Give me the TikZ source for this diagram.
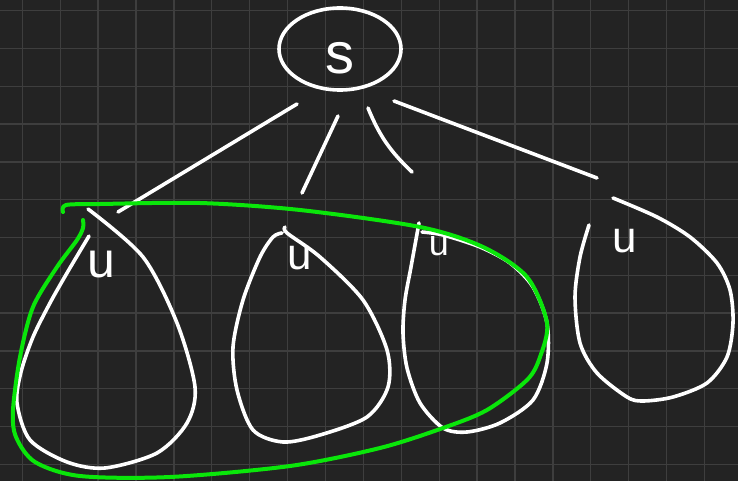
\documentclass[tikz,border=0pt]{standalone}
\usepackage{fontspec}
\setmainfont{Liberation Sans}
\usetikzlibrary{shapes.geometric}
\definecolor{board}{RGB}{35,35,35}
\definecolor{gridline}{RGB}{62,62,62}
\definecolor{marker}{RGB}{10,230,10}

\begin{document}
\begin{tikzpicture}[x=1pt,y=-1pt,
    chalk/.style={white,line width=3.6pt,line cap=round,line join=round},
    hilite/.style={marker,line width=4pt,line cap=round,line join=round},
    letter/.style={white,inner sep=0pt,font=\fontsize{#1}{#1}\selectfont},
    letter/.default=44]
    \fill[board] (0,0) rectangle (738,481);
    \useasboundingbox (0,0) rectangle (738,481);
    \foreach \i in {0,...,18}
      \draw[gridline,line width=1.3pt] (22.3+37.9*\i,0) -- (22.3+37.9*\i,481);
    \foreach \j in {0,...,12}
      \draw[gridline,line width=1.3pt] (0,10.7+37.8*\j) -- (738,10.7+37.8*\j);

    \node (s) at (340,49) [ellipse,draw,chalk,minimum width=122pt,minimum height=82pt] {};
    \node (stxt) at (340,58) [letter=58] {s};
    \node (u1) at (101,265) [letter=50] {u};
    \node (u2) at (300,258) [letter=44] {u};
    \node (u3) at (439,246) [letter=36] {u};
    \node (u4) at (625,241) [letter=44] {u};

    \coordinate (a1) at (297,104); \coordinate (b1) at (118,212);
    \coordinate (a2) at (338,116); \coordinate (b2) at (302,193);
    \coordinate (a3) at (368,108); \coordinate (b3) at (412,172);
    \coordinate (a4) at (394,101); \coordinate (b4) at (597,178);

    \draw [chalk] (a1) -- (b1);
    \draw [chalk] (a2) -- (b2);
    \draw [chalk] (a3) to[bend right=12] (b3);
    \draw [chalk] (a4) -- (b4);

    \draw [chalk] plot[smooth] coordinates {(89,236) (67,273) (50,303) (33,337) (21,372) (17,403) (30,440) (67,462) (105,468) (157,453) (187,423) (195,387) (177,323) (143,257) (88,209)};
    \draw [chalk] plot[smooth] coordinates {(285,227) (287,233) (320,257) (363,300) (387,350) (388,387) (367,417) (320,435) (283,442) (253,430) (237,390) (233,347) (243,300) (260,257) (273,237) (282,233)};
    \draw [chalk] plot[smooth] coordinates {(419,223) (411,267) (405,300) (403,333) (407,368) (420,403) (443,428) (467,432) (500,423) (533,400) (547,363) (547,323) (533,287) (510,263) (480,247) (443,235) (422,232)};
    \draw [chalk] plot[smooth] coordinates {(589,225) (580,257) (575,297) (580,343) (597,373) (627,397) (643,401) (673,397) (707,383) (727,357) (733,323) (730,290) (717,263) (690,237) (657,217) (613,198)};

    \draw [hilite] plot[smooth] coordinates {(63,212) (66,205) (100,204) (200,203) (300,210) (420,227) (483,247) (527,277) (547,323) (540,357) (527,380) (487,410) (443,428) (380,448) (290,466) (170,477) (80,476) (35,462) (16,437) (13,410) (20,357) (33,307) (57,267) (77,240) (83,228) (83,220)};
\end{tikzpicture}
\end{document}
